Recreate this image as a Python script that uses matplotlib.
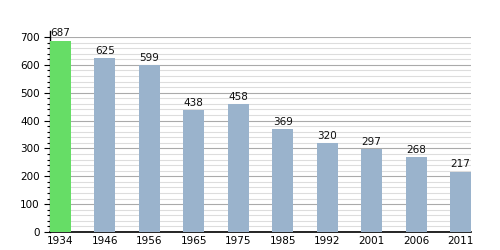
import matplotlib
matplotlib.use("Agg")
import matplotlib.pyplot as plt
from matplotlib.ticker import MultipleLocator

# ── Data ──────────────────────────────────────────────────────────────
years  = ["1934", "1946", "1956", "1965", "1975",
          "1985", "1992", "2001", "2006", "2011"]
values = [687, 625, 599, 438, 458, 369, 320, 297, 268, 217]
colors = ["#66dd66"] + ["#9ab3cc"] * (len(years) - 1)

# ── Plot ──────────────────────────────────────────────────────────────
fig = plt.figure(figsize=(5, 2.5), dpi=100)
ax = fig.add_axes([0.1, 0.072, 0.842, 0.78])

x = range(len(years))
bars = ax.bar(x, values, width=0.47, color=colors, zorder=3)

for bar, val in zip(bars, values):
    ax.text(bar.get_x() + bar.get_width() / 2, val + 8, str(val),
            ha="center", va="bottom", fontsize=7.5, color="#111111", zorder=4)

ax.set_xticks(list(x))
ax.set_xticklabels(years, fontsize=7.5)
ax.set_xlim(-0.235, len(years) - 1 + 0.235)
ax.set_ylim(0, 700)
ax.yaxis.set_major_locator(MultipleLocator(100))
ax.yaxis.set_minor_locator(MultipleLocator(20))
ax.tick_params(axis="y", labelsize=7.5, length=4, width=0.8)
ax.tick_params(axis="y", which="minor", length=2.5, width=0.8)
ax.tick_params(axis="x", length=0, pad=3)

ax.grid(axis="y", which="major", color="#aaaaaa", linewidth=0.8, zorder=0)
ax.grid(axis="y", which="minor", color="#dddddd", linewidth=0.8, zorder=0)

for side in ["top", "right"]:
    ax.spines[side].set_visible(False)
ax.spines["left"].set_bounds(0, 720)
ax.spines["left"].set_linewidth(1)
ax.spines["bottom"].set_linewidth(1.2)
ax.set_clip_on(False)

plt.savefig("out.png", dpi=100)
